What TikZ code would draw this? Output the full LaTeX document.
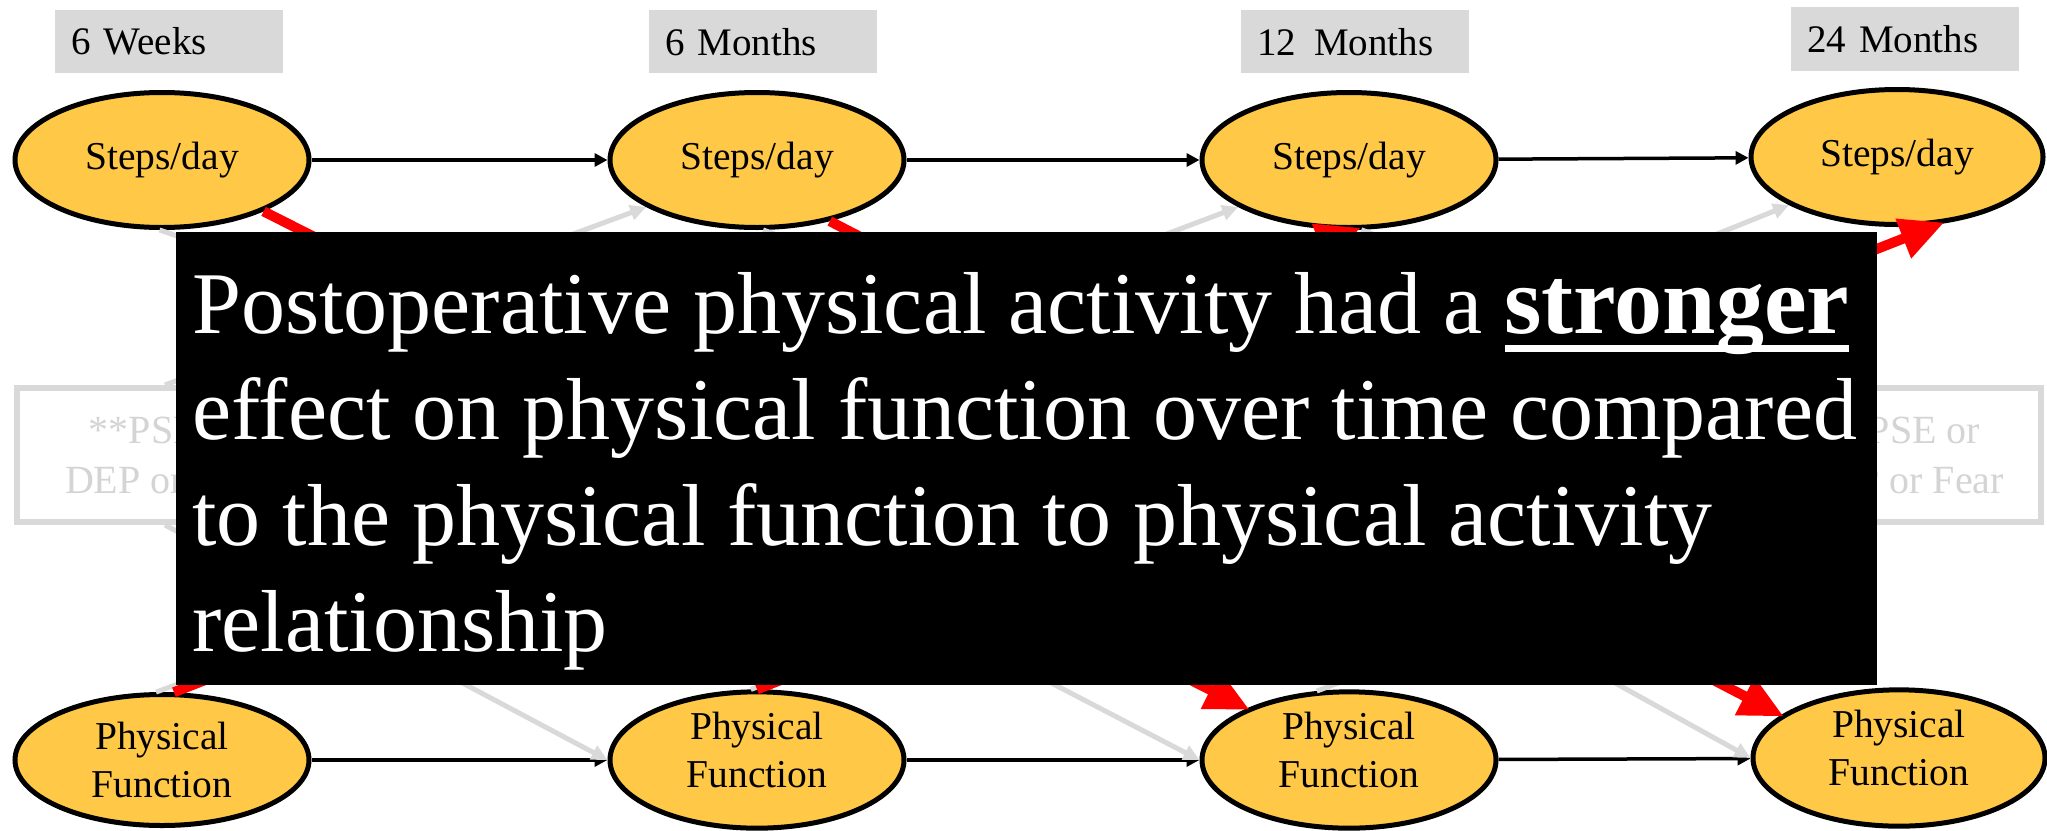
\documentclass[tikz,border=0pt]{standalone}
\usepackage{fontspec}
\setmainfont{Liberation Serif}
\usetikzlibrary{arrows.meta,shapes.geometric}
\definecolor{ellfill}{RGB}{255,200,70}
\definecolor{lgray}{RGB}{217,217,217}
\definecolor{tgray}{RGB}{212,212,212}
\newcommand\ulwhite[1]{\setbox0\hbox{#1}\rlap{\color{white}\rule[-19pt]{\wd0}{7pt}}\box0}
\newcommand\liftup{\rule[-21pt]{0pt}{21pt}}
\begin{document}
\begin{tikzpicture}[x=1pt,y=-1pt,
  ell/.style={ellipse, draw=black, line width=5pt, fill=ellfill, minimum width=294pt, minimum height=135pt, inner sep=0pt, font=\fontsize{39.5}{48}\selectfont, align=center},
  med/.style={rectangle, draw=lgray, line width=6pt, fill=white, minimum width=256pt, minimum height=134pt, inner sep=0pt, text=tgray, font=\fontsize{40}{50}\selectfont, align=center},
  tlab/.style={anchor=north west, fill=lgray, inner xsep=16pt, inner ysep=0pt, text width=196pt, align=left, minimum height=63pt, font=\fontsize{39}{46}\selectfont},
  blk/.style={-{Triangle[length=13pt,width=13pt]}, line width=3.5pt, black},
  gry/.style={-{Triangle[length=16pt,width=15pt]}, line width=5pt, lgray},
  rd/.style={-{Triangle[length=44pt,width=40pt]}, line width=10pt, red},
  txt/.style={anchor=base west, inner sep=0pt, text=white, font=\fontsize{88}{106}\selectfont}
]
\useasboundingbox (0,0) rectangle (2047,830);

% time labels
\node[tlab] (w6) at (55,10) {6 Weeks};
\node[tlab] (m6) at (649,10) {6 Months};
\node[tlab] (m12) at (1241,10) {12\hspace{18pt}Months};
\node[tlab, minimum height=64pt] (m24) at (1791,7) {24 Months};

% mediator boxes (mostly hidden behind the overlay)
\node[med, minimum width=296pt] (M1) at (165,455) {**PSE or\\DEP or Fear};
\node[med] (M2) at (745,455) {};
\node[med] (M3) at (1320,455) {};
\node[med, minimum width=274pt] (M4) at (1904,455) {**PSE or\\DEP or Fear};

% ellipses
\node[ell] (t1) at (162,160) {Steps/day};
\node[ell] (t2) at (757,160) {Steps/day};
\node[ell] (t3) at (1349,160) {Steps/day};
\node[ell, minimum width=292pt] (t4) at (1897,157) {Steps/day};
\node[ell, minimum height=131pt] (b1) at (162,760) {Physical\\Function};
\node[ell, minimum height=131pt] (b2) at (757,760) {Physical\\Function\liftup};
\node[ell, minimum height=131pt] (b3) at (1349,760) {Physical\\Function\liftup};
\node[ell, minimum height=131pt, minimum width=292pt] (b4) at (1899,758) {Physical\\Function\liftup};

% autoregressive paths
\draw[blk] (t1) -- (t2);
\draw[blk] (t2) -- (t3);
\draw[blk] (t3) -- (t4);
\draw[blk] (b1) -- (b2);
\draw[blk] (b2) -- (b3);
\draw[blk] (b3) -- (b4);

% gray mediator paths
\draw[gry] (t1.-92) -- (M2.north west);
\draw[gry] (t2.-85) -- (M3.north west);
\draw[gry] (t3.-80) -- (M4.north west);
\draw[gry] (b1.95) -- (M2.south west);
\draw[gry] (b2.95) -- (M3.south west);
\draw[gry] (b3.115) -- (M4.south west);
\draw[gry] (M1.north) -- (t2.203);
\draw[gry] (M2.73) -- (t3.203);
\draw[gry] (M3.73) -- (t4.204);
\draw[gry] (M1.south) -- (b2.west);
\draw[gry] (M2.-88) -- (b3.west);
\draw[gry] (M3.-82) -- (b4.west);

% red cross-lagged paths
\draw[rd, shorten >=-3pt] (t1) -- (b3);
\draw[rd, shorten >=-3pt] (t2.-40) -- (b4.160);
\draw[rd, shorten >=-6pt] (b1.80) -- (t3.-85);
\draw[rd, shorten >=-4pt] (b2.90) -- (t4.-57);

% overlay box
\node[fill=black, minimum width=1701pt, minimum height=453pt, inner sep=0pt, anchor=north west] (note) at (176,232) {};
\node[txt] (l1) at (192,333) {Postoperative physical activity had a \ulwhite{\fontsize{96}{106}\selectfont\bfseries stronger}};
\node[txt] (l2) at (192,439) {effect on physical function over time compared};
\node[txt] (l3) at (192,545) {to the physical function to physical activity};
\node[txt] (l4) at (192,651) {relationship};
\end{tikzpicture}
\end{document}
